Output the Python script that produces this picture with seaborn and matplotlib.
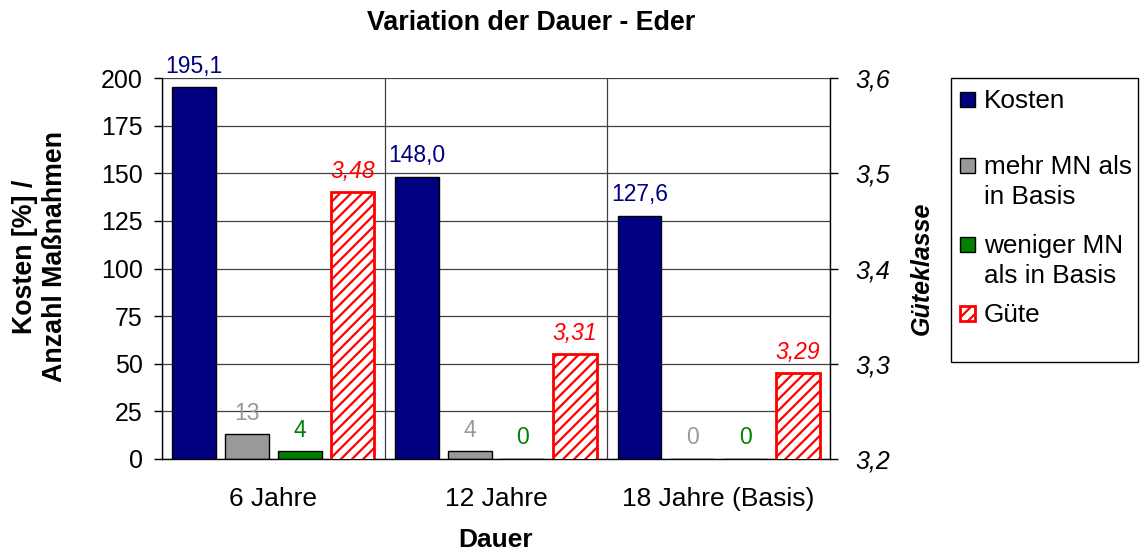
import numpy as np
import pandas as pd
import matplotlib
matplotlib.use("Agg")
import matplotlib.pyplot as plt
from matplotlib.patches import Rectangle
from matplotlib.ticker import FixedLocator
import seaborn as sns

# --- data -------------------------------------------------------------
kategorien = ["6 Jahre", "12 Jahre", "18 Jahre (Basis)"]
kosten = [195.1, 148.0, 127.6]
mehr_mn = [13, 4, 0]
weniger_mn = [4, 0, 0]
guete = [3.48, 3.31, 3.29]

serien = ["Kosten", "mehr MN als in Basis", "weniger MN als in Basis", "Güte"]
legenden_text = ["Kosten", "mehr MN als\nin Basis", "weniger MN\nals in Basis", "Güte"]
links_ticks = [0, 25, 50, 75, 100, 125, 150, 175, 200]
rechts_ticks = [3.2, 3.3, 3.4, 3.5, 3.6]

farben = {
    "Kosten": "#000080",
    "mehr MN als in Basis": "#999999",
    "weniger MN als in Basis": "#008000",
    "Güte": "#FF0000",
}
formate = {
    "Kosten": lambda v: f"{v:.1f}".replace(".", ","),
    "mehr MN als in Basis": lambda v: f"{v:.0f}",
    "weniger MN als in Basis": lambda v: f"{v:.0f}",
    "Güte": lambda v: f"{v:.2f}".replace(".", ","),
}

df_links = pd.DataFrame({
    "Dauer": kategorien * 3,
    "Wert": kosten + mehr_mn + weniger_mn,
    "Serie": np.repeat(serien[:3], len(kategorien)),
})
df_rechts = pd.DataFrame({
    "Dauer": kategorien,
    "Wert": guete,
    "Serie": serien[3],
})

# --- style ------------------------------------------------------------
sns.set_theme(style="white")
plt.rcParams["font.family"] = ["Liberation Sans", "DejaVu Sans"]
plt.rcParams["hatch.linewidth"] = 1.6
for key in ["text.color", "axes.labelcolor", "xtick.color", "ytick.color"]:
    plt.rcParams[key] = "black"

W, H = 1140, 553
fig = plt.figure(figsize=(W / 100, H / 100), dpi=100)
ax = fig.add_axes([162 / W, 1 - 459 / H, (830 - 162) / W, (459 - 78) / H])

bar_kw = dict(x="Dauer", y="Wert", hue="Serie", order=kategorien, hue_order=serien,
              palette=farben, saturation=1, width=0.948, gap=0.17, dodge=True,
              errorbar=None, legend=False)

sns.barplot(data=df_links, ax=ax, edgecolor="black", linewidth=1, **bar_kw)
ax2 = ax.twinx()
sns.barplot(data=df_rechts, ax=ax2, edgecolor="#FF0000", linewidth=2, **bar_kw)

# hatched quality bars
for c in ax2.containers:
    for p in c:
        p.set_facecolor("white")
        p.set_edgecolor("#FF0000")
        p.set_hatch("///")
        p.set_linewidth(2)

# value labels
for name, c in zip(serien[:3], [c for c in ax.containers if len(c)]):
    ax.bar_label(c, fmt=formate[name], padding=7, color=farben[name], fontsize=16.5)
for c in [c for c in ax2.containers if len(c)]:
    ax2.bar_label(c, fmt=formate["Güte"], padding=7, color=farben["Güte"],
                  fontsize=16.5, fontstyle="italic")

# --- axes -------------------------------------------------------------
ax.set_xlim(-0.5, len(kategorien) - 0.5)
ax.set_ylim(0, 200)
ax.set_yticks(links_ticks)
ax.set_yticklabels([str(t) for t in links_ticks], fontsize=18)
ax.set_xticks(range(len(kategorien)))
ax.set_xticklabels(kategorien, fontsize=19)
ax.xaxis.set_minor_locator(FixedLocator(np.arange(-0.5, len(kategorien), 1.0)))
ax.tick_params(axis="x", which="major", length=0, pad=20)
ax.tick_params(axis="x", which="minor", length=6, width=1, color="black", direction="out")
ax.tick_params(axis="y", which="major", length=6, width=1, color="black", direction="out", pad=8)
ax.set_axisbelow(True)
ax.yaxis.grid(True, color="#404040", linewidth=0.9)
ax.xaxis.grid(True, which="minor", color="#404040", linewidth=0.9)
ax.xaxis.grid(False, which="major")

ax2.set_ylim(3.2, 3.6)
ax2.set_yticks(rechts_ticks)
ax2.set_yticklabels([f"{t:.1f}".replace(".", ",") for t in rechts_ticks],
                    fontsize=18, fontstyle="italic")
ax2.tick_params(axis="y", which="major", length=6, width=1, color="black", direction="out", pad=12)
ax2.grid(False)

for s in ["top", "right"]:
    ax.spines[s].set_visible(False)
for s in ["top", "left", "bottom"]:
    ax2.spines[s].set_visible(False)
for a, s in [(ax, "left"), (ax, "bottom"), (ax2, "right")]:
    a.spines[s].set_color("black")
    a.spines[s].set_linewidth(1)

ax.set_xlabel("Dauer", fontsize=19, fontweight="bold", va="center")
ax.xaxis.set_label_coords(0.5, -(540 - 459) / (459 - 78))
ax.set_ylabel("Kosten [%] /\nAnzahl Maßnahmen", fontsize=19.3, fontweight="bold",
              va="center", ha="center")
ax.yaxis.set_label_coords((40 - 162) / (830 - 162), (459 - 257) / (459 - 78))
ax2.set_ylabel("Güteklasse", fontsize=18, fontweight="bold", fontstyle="italic",
               va="center", ha="center")
ax2.yaxis.set_label_coords((922 - 162) / (830 - 162), (459 - 268) / (459 - 78))

fig.text(531 / W, 1 - 23 / H, "Variation der Dauer - Eder", fontsize=19.3,
         fontweight="bold", ha="center", va="center")

# --- legend -----------------------------------------------------------
fig.patches.append(Rectangle((951 / W, 1 - 362 / H), 187 / W, 284 / H,
                             transform=fig.transFigure, fill=False,
                             edgecolor="black", linewidth=1))
eintrag_y = [92, 158, 237, 306]  # top of each key square (px)
for name, text, y in zip(serien, legenden_text, eintrag_y):
    if name == "Güte":
        fig.patches.append(Rectangle((960 / W, 1 - (y + 15) / H), 15 / W, 15 / H,
                                     transform=fig.transFigure, facecolor="white",
                                     edgecolor=farben[name], hatch="///", linewidth=2))
    else:
        fig.patches.append(Rectangle((960 / W, 1 - (y + 15) / H), 15 / W, 15 / H,
                                     transform=fig.transFigure, facecolor=farben[name],
                                     edgecolor="black", linewidth=1))
    for i, zeile in enumerate(text.split("\n")):
        fig.text(984 / W, 1 - (y + 16 + 30 * i) / H, zeile, fontsize=18.8,
                 ha="left", va="baseline")

fig.savefig("out.png", dpi=100)
